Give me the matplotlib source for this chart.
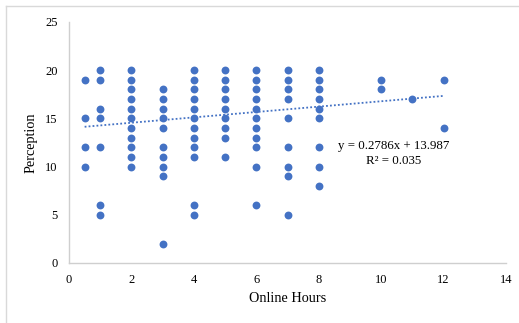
import matplotlib
matplotlib.use("Agg")
import matplotlib.pyplot as plt

plt.rcParams['font.family'] = ['Liberation Serif', 'DejaVu Serif']

# online hours -> perception scores
hours = {
    0.5: [19, 15, 12, 10],
    1: [20, 19, 16, 15, 12, 6, 5],
    2: [20, 19, 18, 17, 16, 15, 14, 13, 12, 11, 10],
    3: [18, 17, 16, 15, 14, 12, 11, 10, 9, 2],
    4: [20, 19, 18, 17, 16, 15, 14, 13, 12, 11, 6, 5],
    5: [20, 19, 18, 17, 16, 15, 14, 13, 11],
    6: [20, 19, 18, 17, 16, 15, 14, 13, 12, 10, 6],
    7: [20, 19, 18, 17, 15, 12, 10, 9, 5],
    8: [20, 19, 18, 17, 16, 15, 12, 10, 8],
    10: [19, 18],
    11: [17],
    12: [19, 14],
}
slope = 0.2786
intercept = 13.987
trend_x = [0.5, 12]

xs, ys = [], []
for h, vals in hours.items():
    xs += [h] * len(vals)
    ys += vals

fig = plt.figure(figsize=(5.19, 3.23), dpi=100)
ax = fig.add_axes([0.133, 0.186, 0.842, 0.746])

ax.scatter(xs, ys, s=32, color='#4472C4', zorder=3, linewidths=0)
ty = [slope * x + intercept for x in trend_x]
ax.plot(trend_x, ty, color='#4472C4', linestyle=(0, (1, 1.2)), linewidth=1.3, zorder=2)

ax.text(10.4, 12.1, 'y = 0.2786x + 13.987', ha='center', va='center', fontsize=9.3)
ax.text(10.4, 10.6, 'R² = 0.035', ha='center', va='center', fontsize=9.3)

ax.set_xlim(0, 14)
ax.set_ylim(0, 25)
ax.set_xticks(range(0, 15, 2))
ax.set_yticks(range(0, 26, 5))
ax.tick_params(length=0, labelsize=9, pad=8)
for s in ['top', 'right']:
    ax.spines[s].set_visible(False)
for s in ['bottom', 'left']:
    ax.spines[s].set_color('#cfcfcf')
    ax.spines[s].set_linewidth(1.0)
ax.set_xlabel('Online Hours', fontsize=10.3, labelpad=4)
ax.set_ylabel('Perception', fontsize=10.3, labelpad=6)

# outer chart border (only top and left visible in the crop)
fig.add_artist(plt.Line2D([0.012, 1.0], [0.98, 0.98], transform=fig.transFigure,
                          color='#d9d9d9', linewidth=1.0))
fig.add_artist(plt.Line2D([0.012, 0.012], [0.0, 0.98], transform=fig.transFigure,
                          color='#d9d9d9', linewidth=1.0))

fig.savefig('out.png', dpi=100)
